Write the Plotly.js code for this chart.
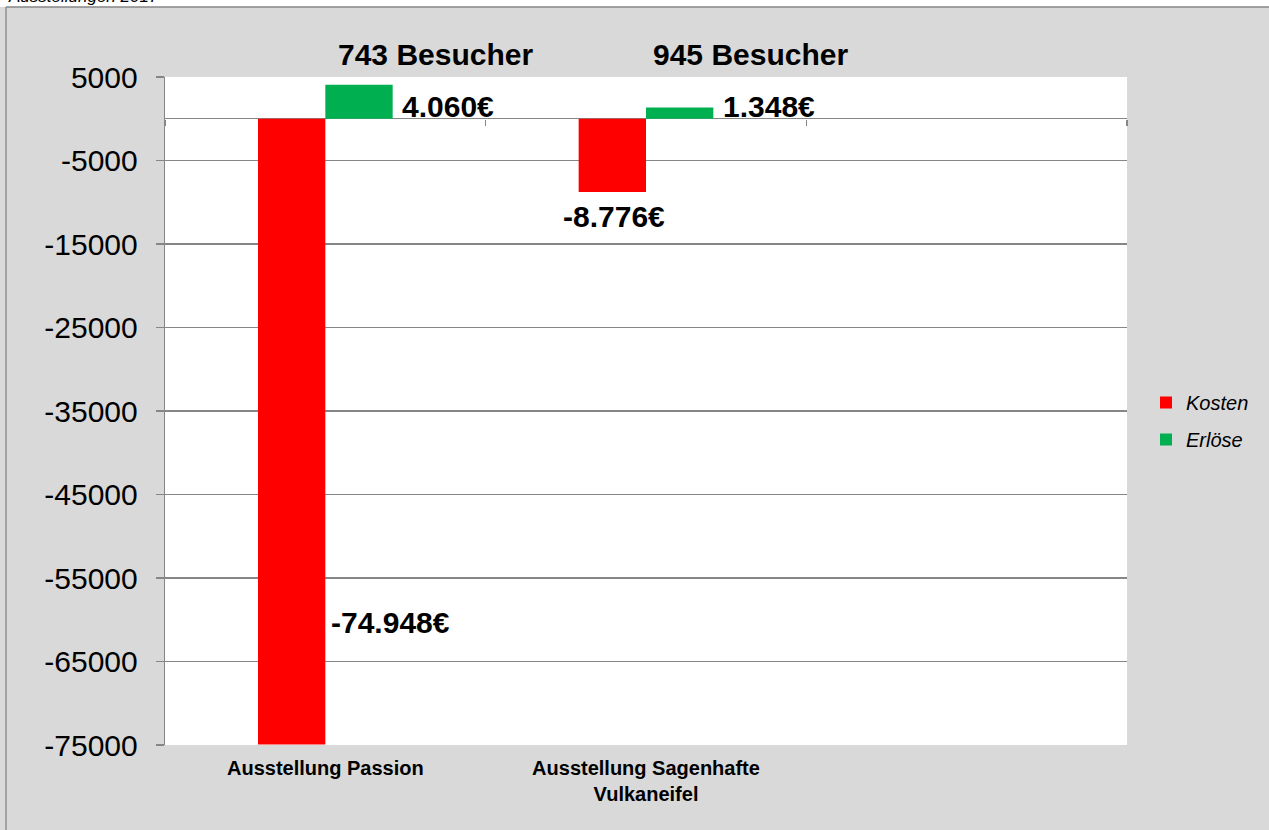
<!DOCTYPE html>
<html>
<head>
<meta charset="utf-8">
<script src="https://cdn.plot.ly/plotly-3.0.1.min.js"></script>
<style>
  html, body { margin: 0; padding: 0; background: #ffffff; }
  #chart { width: 1269px; height: 830px; }
</style>
</head>
<body>
<div id="chart"></div>
<script>
// ---- data ----
const chartTitle = "Ausstellungen 2017";
const categories = ["Ausstellung Passion", "Ausstellung Sagenhafte<br>Vulkaneifel"];
const seriesNames = ["Kosten", "Erlöse"];
const kosten = [-74948, -8776];
const erloese = [4060, 1348];
const besucher = [743, 945];
const besucherSuffix = " Besucher";
const yTickVals = [5000, -5000, -15000, -25000, -35000, -45000, -55000, -65000, -75000];
const yTickText = ["5000", "-5000", "-15000", "-25000", "-35000", "-45000", "-55000", "-65000", "-75000"];
const yRange = [-75000, 5000];

// ---- helpers ----
function euro(v) {
  const s = Math.abs(v).toString().replace(/\B(?=(\d{3})+(?!\d))/g, ".");
  return (v < 0 ? "-" : "") + s + "€";
}

const W = 1269, H = 830;
const M = { l: 165, r: 142, t: 77, b: 85 };
const plotW = W - M.l - M.r, plotH = H - M.t - M.b;
const px2x = X => (X - M.l) / plotW;
const px2y = Y => (H - M.b - Y) / plotH;
const zeroFrac = (0 - yRange[0]) / (yRange[1] - yRange[0]);

const FONT = "Liberation Sans, Arial, sans-serif";
const GRID = "#868686";

const traces = [
  { type: "bar", name: seriesNames[0], x: categories, y: kosten,
    marker: { color: "#ff0000", line: { width: 0 } }, legendgroup: "a", hoverinfo: "x+y" },
  { type: "bar", name: seriesNames[1], x: categories, y: erloese,
    marker: { color: "#00b050", line: { width: 0 } }, legendgroup: "b", hoverinfo: "x+y" },
  { type: "scatter", x: [], y: [], xaxis: "x2", showlegend: false, hoverinfo: "skip" }
];

const labelFont = { family: FONT, size: 30, color: "#000000", weight: "bold" };
const annotations = [];

// Erlöse labels (right of green bars)
erloese.forEach((v, i) => {
  annotations.push({ x: categories[i], y: 0, xref: "x", yref: "y", text: "<b>" + euro(v) + "</b>",
    showarrow: false, xanchor: "left", yanchor: "middle", xshift: 75, yshift: 12, font: labelFont });
});
// Kosten labels
annotations.push({ x: categories[0], y: kosten[0], xref: "x", yref: "y", text: "<b>" + euro(kosten[0]) + "</b>",
  showarrow: false, xanchor: "left", yanchor: "middle", xshift: 4, yshift: 122, font: labelFont });
annotations.push({ x: categories[1], y: kosten[1], xref: "x", yref: "y", text: "<b>" + euro(kosten[1]) + "</b>",
  showarrow: false, xanchor: "center", yanchor: "top", xshift: -32, yshift: -6, font: labelFont });
// Besucher labels
const besucherShift = [110, 104];
besucher.forEach((v, i) => {
  annotations.push({ x: categories[i], y: px2y(55), xref: "x", yref: "paper",
    text: "<b>" + v + besucherSuffix + "</b>", showarrow: false, xanchor: "center", yanchor: "middle",
    xshift: besucherShift[i], font: labelFont });
});
// chart title (cut off at the top edge, as in the original)
annotations.push({ x: px2x(6), y: px2y(8), xref: "paper", yref: "paper", text: "<i>" + chartTitle + "</i>",
  showarrow: false, xanchor: "left", yanchor: "bottom", font: { family: FONT, size: 17, color: "#000000" } });

const shapes = [
  { type: "rect", xref: "paper", yref: "paper", x0: px2x(-5), x1: px2x(W + 5), y0: px2y(7), y1: px2y(-5),
    fillcolor: "#ffffff", line: { width: 0 }, layer: "below" },
  { type: "line", xref: "paper", yref: "paper", x0: px2x(6), x1: px2x(W + 5), y0: px2y(7), y1: px2y(7),
    line: { color: GRID, width: 1.3 } },
  { type: "line", xref: "paper", yref: "paper", x0: px2x(6), x1: px2x(6), y0: px2y(7), y1: px2y(H + 5),
    line: { color: GRID, width: 1.3 } }
];

const layout = {
  width: W, height: H,
  margin: M,
  paper_bgcolor: "#d9d9d9",
  plot_bgcolor: "#ffffff",
  font: { family: FONT, color: "#000000" },
  barmode: "group",
  bargap: 0.58,
  bargroupgap: 0,
  showlegend: true,
  legend: {
    x: px2x(1146), y: px2y(421), xanchor: "left", yanchor: "middle",
    bgcolor: "rgba(0,0,0,0)", borderwidth: 0,
    font: { family: FONT, size: 20, color: "#000000", style: "italic" },
    traceorder: "grouped", tracegroupgap: 8
  },
  xaxis: {
    type: "category", range: [-0.5, 2.5], automargin: false,
    showgrid: false, zeroline: false, showline: false, ticks: "",
    tickfont: { family: FONT, size: 20, color: "#000000", weight: "bold" },
    ticklabelstandoff: 9, fixedrange: true
  },
  xaxis2: {
    overlaying: "x", anchor: "free", position: zeroFrac, range: [-0.5, 2.5],
    tickmode: "array", tickvals: [-0.5, 0.5, 1.5, 2.5], ticks: "outside", ticklen: 6,
    tickcolor: GRID, tickwidth: 1.3, showticklabels: false, showgrid: false, zeroline: false, showline: false,
    fixedrange: true
  },
  yaxis: {
    range: yRange, tickmode: "array", tickvals: yTickVals, ticktext: yTickText, automargin: false,
    showgrid: true, gridcolor: GRID, gridwidth: 1.3,
    zeroline: true, zerolinecolor: GRID, zerolinewidth: 1.3,
    showline: true, linecolor: GRID, linewidth: 1.3,
    ticks: "outside", ticklen: 8, tickcolor: GRID, tickwidth: 1.3,
    tickfont: { family: FONT, size: 30, color: "#000000" },
    ticklabelstandoff: 12, fixedrange: true
  },
  annotations: annotations,
  shapes: shapes
};

Plotly.newPlot("chart", traces, layout, { displayModeBar: false, staticPlot: true });
</script>
</body>
</html>
